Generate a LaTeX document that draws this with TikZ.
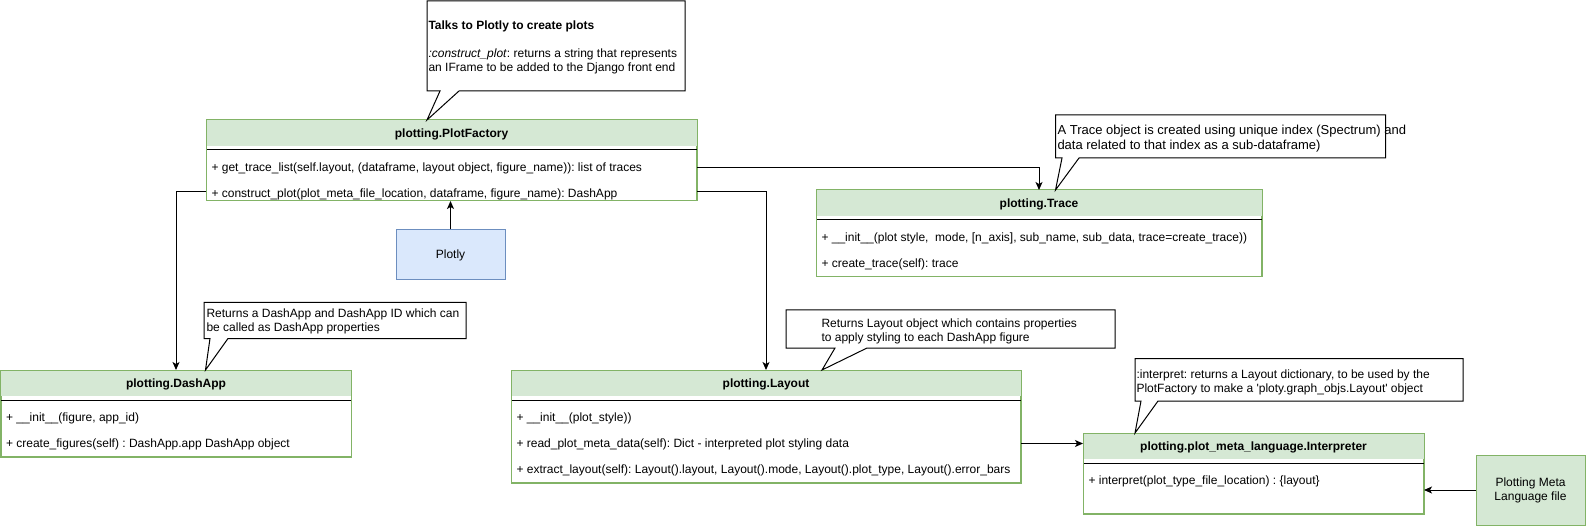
\documentclass[tikz,border=0pt]{standalone}
\usepackage{fontspec}
\setmainfont{Liberation Sans}
\usetikzlibrary{arrows.meta,calc}
\definecolor{gfill}{HTML}{D5E8D4}
\definecolor{gline}{HTML}{82B366}
\definecolor{bfill}{HTML}{DAE8FC}
\definecolor{bline}{HTML}{6C8EBF}
\frenchspacing
\begin{document}
\frenchspacing
\begin{tikzpicture}[x=1pt,y=-1pt,line width=1pt,
  every node/.style={inner sep=0pt,font=\fontsize{12}{14}\selectfont\frenchspacing},
  clsbox/.style={draw=gline,fill=white,anchor=north west},
  clstitle/.style={anchor=base,font=\fontsize{12}{14}\selectfont\bfseries\frenchspacing},
  member/.style={anchor=base west},
  callout/.style={draw=black,fill=white,line join=miter},
  note/.style={anchor=north west,align=left},
  plainbox/.style={anchor=center,align=center},
  arr/.style={draw=black,-{Stealth[length=8pt,width=7pt,inset=2pt]}}]
\useasboundingbox (0,0) rectangle (1586,526);

% ---------- class boxes ----------
% PlotFactory
\node[clsbox,minimum width=490pt,minimum height=80pt] (pf) at (206,120) {};
\fill[gfill] ([shift={(0.5,0.5)}]pf.north west) rectangle ([shift={(-0.5,26)}]pf.north east);
\draw[black] ([yshift=-30pt]pf.north west) -- ([yshift=-30pt]pf.north east);
\draw[gline] (pf.north west) rectangle (pf.south east);
\node[clstitle] (pft) at ($(pf.north)+(0,17.5)$) {plotting.PlotFactory};
\node[member] (pfm1) at ($(pf.north west)+(5,51.5)$) {+ get\_trace\_list(self.layout, (dataframe, layout object, figure\_name)): list of traces};
\node[member] (pfm2) at ($(pf.north west)+(5,77.5)$) {+ construct\_plot(plot\_meta\_file\_location, dataframe, figure\_name): DashApp};

% Trace
\node[clsbox,minimum width=445pt,minimum height=86pt] (trace) at (816,190) {};
\fill[gfill] ([shift={(0.5,0.5)}]trace.north west) rectangle ([shift={(-0.5,26)}]trace.north east);
\draw[black] ([yshift=-30pt]trace.north west) -- ([yshift=-30pt]trace.north east);
\draw[gline] (trace.north west) rectangle (trace.south east);
\node[clstitle] (tracet) at ($(trace.north)+(0,17.5)$) {plotting.Trace};
\node[member] (tracem1) at ($(trace.north west)+(5,51.5)$) {+ \_\_init\_\_(plot style,\ \ mode, [n\_axis], sub\_name, sub\_data, trace=create\_trace))};
\node[member] (tracem2) at ($(trace.north west)+(5,77.5)$) {+ create\_trace(self): trace};

% DashApp
\node[clsbox,minimum width=350pt,minimum height=86pt] (dash) at (0.5,370) {};
\fill[gfill] ([shift={(0.5,0.5)}]dash.north west) rectangle ([shift={(-0.5,26)}]dash.north east);
\draw[black] ([yshift=-30pt]dash.north west) -- ([yshift=-30pt]dash.north east);
\draw[gline] (dash.north west) rectangle (dash.south east);
\node[clstitle] (dasht) at ($(dash.north)+(0,17.5)$) {plotting.DashApp};
\node[member] (dashm1) at ($(dash.north west)+(5,51.5)$) {+ \_\_init\_\_(figure, app\_id)};
\node[member] (dashm2) at ($(dash.north west)+(5,77.5)$) {+ create\_figures(self) : DashApp.app DashApp object};

% Layout
\node[clsbox,minimum width=509pt,minimum height=112pt] (layout) at (511,370) {};
\fill[gfill] ([shift={(0.5,0.5)}]layout.north west) rectangle ([shift={(-0.5,26)}]layout.north east);
\draw[black] ([yshift=-30pt]layout.north west) -- ([yshift=-30pt]layout.north east);
\draw[gline] (layout.north west) rectangle (layout.south east);
\node[clstitle] (layoutt) at ($(layout.north)+(0,17.5)$) {plotting.Layout};
\node[member] (layoutm1) at ($(layout.north west)+(5,51.5)$) {+ \_\_init\_\_(plot\_style))};
\node[member] (layoutm2) at ($(layout.north west)+(5,77.5)$) {+ read\_plot\_meta\_data(self): Dict - interpreted plot styling data};
\node[member] (layoutm3) at ($(layout.north west)+(5,103.5)$) {+ extract\_layout(self): Layout().layout, Layout().mode, Layout().plot\_type, Layout().error\_bars};

% Interpreter
\node[clsbox,minimum width=340pt,minimum height=80pt] (interp) at (1083,433) {};
\fill[gfill] ([shift={(0.5,0.5)}]interp.north west) rectangle ([shift={(-0.5,26)}]interp.north east);
\draw[black] ([yshift=-30pt]interp.north west) -- ([yshift=-30pt]interp.north east);
\draw[gline] (interp.north west) rectangle (interp.south east);
\node[clstitle] (interpt) at ($(interp.north)+(0,17.5)$) {plotting.plot\_meta\_language.Interpreter};
\node[member] (interpm1) at ($(interp.north west)+(5,51.5)$) {+ interpret(plot\_type\_file\_location) : \{layout\}};

% ---------- simple boxes ----------
\node[plainbox,draw=bline,fill=bfill,minimum width=109pt,minimum height=50pt] (plotly) at (450.5,255) {Plotly};
\node[plainbox,draw=gline,fill=gfill,minimum width=109pt,minimum height=70pt] (pml) at (1530.5,490) {Plotting Meta\\Language file};

% ---------- callouts ----------
\draw[callout] (427,1) -- (685,1) -- (685,91) -- (459,91) -- (427,120) -- (440,91) -- (427,91) -- cycle;
\node[note] (c1) at (428,19) {\rule{0pt}{10pt}\textbf{Talks to Plotly to create plots}\\[14pt]\textit{:construct\_plot}: returns a string that represents\\an IFrame to be added to the Django front end};

\draw[callout] (1055.5,115) -- (1385.5,115) -- (1385.5,158) -- (1079,158) -- (1055.5,190) -- (1062,158) -- (1055.5,158) -- cycle;
\node[note,font=\fontsize{13}{15}\selectfont\frenchspacing] (c2) at (1057,123.5) {\rule{0pt}{11pt}A Trace object is created using unique index (Spectrum) and\\data related to that index as a sub-dataframe)};

\draw[callout] (204,302.5) -- (466,302.5) -- (466,338.5) -- (228,338.5) -- (205.5,370) -- (210,338.5) -- (204,338.5) -- cycle;
\node[note] (c3) at (206,306.5) {\rule{0pt}{10pt}Returns a DashApp and DashApp ID which can\\be called as DashApp properties};

\draw[callout] (786,310) -- (1115,310) -- (1115,348) -- (867,348) -- (822,370) -- (835,348) -- (786,348) -- cycle;
\node[note] (c4) at (821,317) {\rule{0pt}{10pt}Returns Layout object which contains properties\\to apply styling to each DashApp figure};

\draw[callout] (1135,358.5) -- (1463,358.5) -- (1463,401) -- (1158,401) -- (1135,433) -- (1141,401) -- (1135,401) -- cycle;
\node[note] (c5) at (1136,368) {\rule{0pt}{10pt}:interpret: returns a Layout dictionary, to be used by the\\PlotFactory to make a \textquotesingle ploty.graph\_objs.Layout\textquotesingle{} object};

% ---------- connectors ----------
\draw[arr] ([yshift=-7pt]pf.east) -| (trace.north);
\draw[arr] ([yshift=-31pt]pf.west) -| (dash.north);
\draw[arr] ([yshift=-31pt]pf.east) -| (layout.north);
\draw[arr] (plotly.north) -- (plotly.north |- pf.south);
\draw[arr] ([yshift=-17pt]layout.east) -- ([yshift=-17pt]layout.east -| interp.west);
\draw[arr] (pml.west) -- (pml.west -| interp.east);
\end{tikzpicture}
\end{document}
